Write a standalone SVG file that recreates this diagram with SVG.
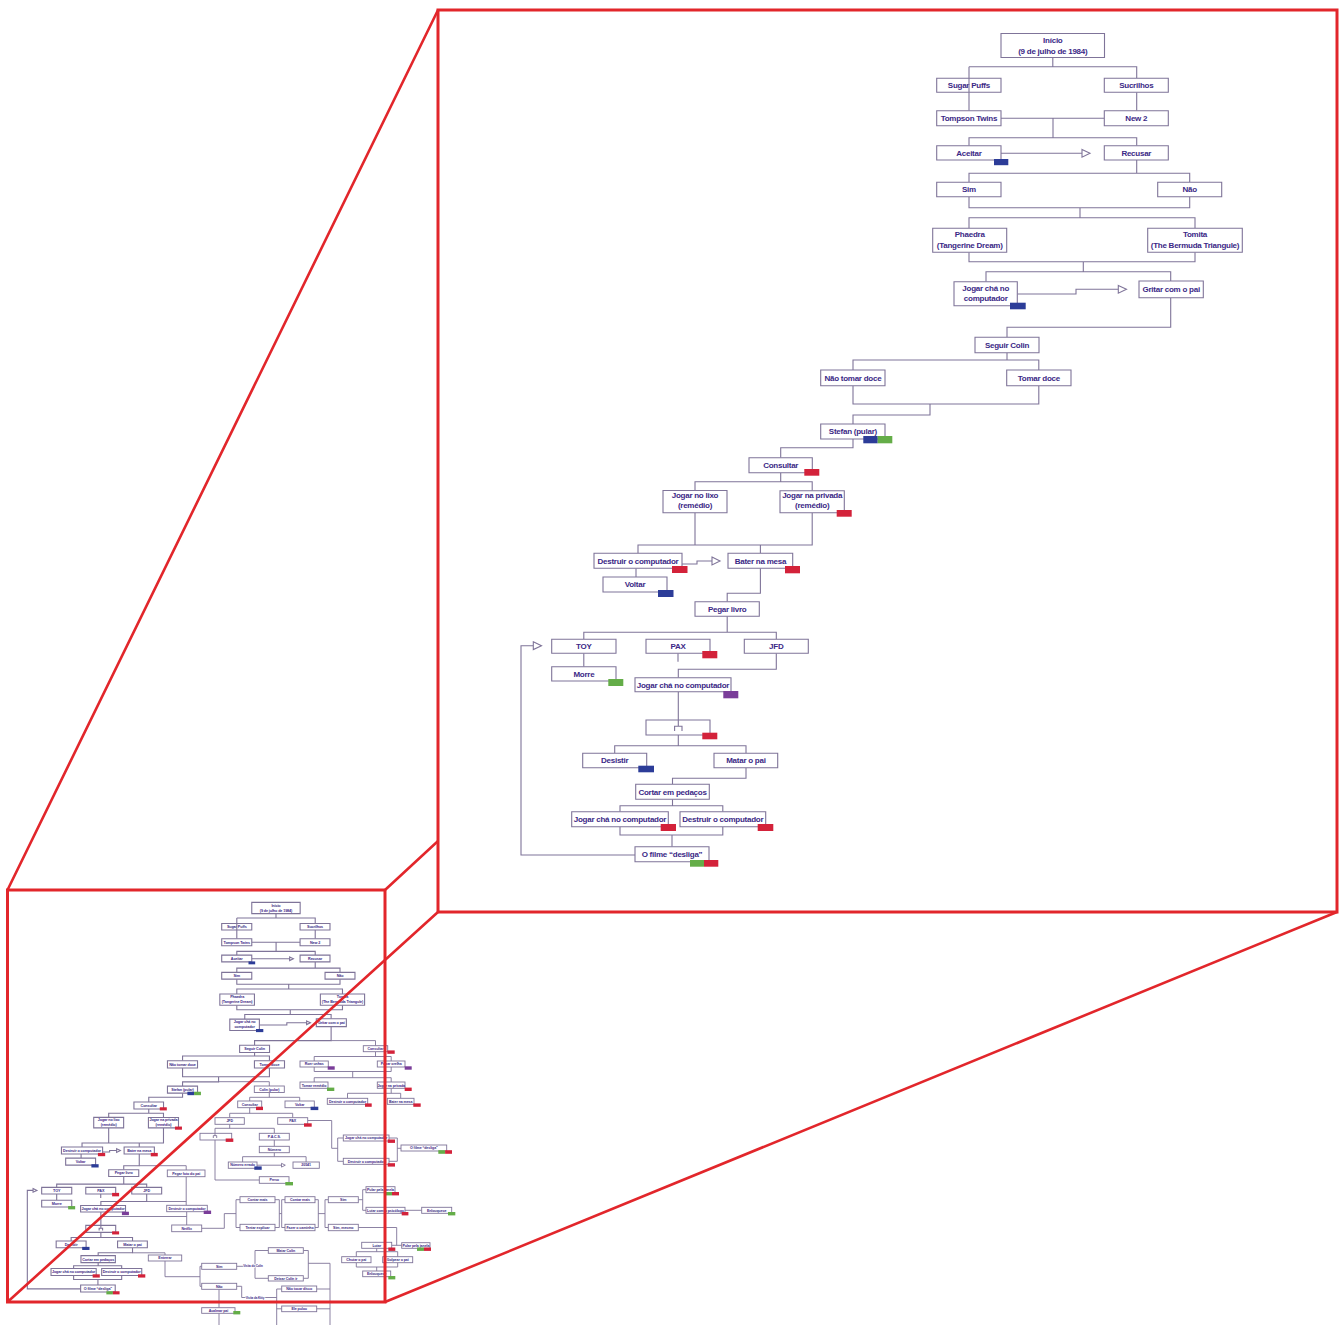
<svg xmlns="http://www.w3.org/2000/svg" xmlns:xlink="http://www.w3.org/1999/xlink" width="1343" height="1325" viewBox="0 0 1343 1325">
<style>
  .box{fill:#fff;stroke:#7f7499;stroke-width:1.1;vector-effect:non-scaling-stroke}
  .ln{fill:none;stroke:#7f7499;stroke-width:1.1;vector-effect:non-scaling-stroke}
  .tri{fill:#fff;stroke:#7f7499;stroke-width:1.1;vector-effect:non-scaling-stroke}
  .t{font-family:"Liberation Sans",Arial,sans-serif;font-weight:bold;font-size:8px;letter-spacing:-0.25px;fill:#3b2886;text-anchor:middle}
  .tb{fill:#2c3c98}.tr{fill:#d3223a}.tg{fill:#64ad48}.tp{fill:#7a3d99}
  .mb{fill:#fff;stroke:#7f7499;stroke-width:0.9}
  .ml{fill:none;stroke:#7f7499;stroke-width:0.9}
  .mt{font-family:"Liberation Sans",Arial,sans-serif;font-weight:bold;font-size:3.6px;letter-spacing:-0.08px;fill:#3b2886;text-anchor:middle}
  .lab{font-size:3px;paint-order:stroke;stroke:#fff;stroke-width:1.4px}
  .frame{fill:none;stroke:#e2262b;stroke-width:3}
  .ray{fill:none;stroke:#e2262b;stroke-width:2.6}
</style>

<rect width="1343" height="1325" fill="#fff"/>

<!-- overview: the whole flow reduced -->
<g id="overview">
  <use xlink:href="#flow" href="#flow" transform="matrix(0.4676 0 0 0.4705 -216.3 886.6)"/>

  <g id="overview-links">
    <path class="ml" d="M331.1,1040.6 H375.5 V1045.7 M375.5,1051.7 V1056.5 M314.2,1061 V1056.5 H391.2 V1061"/>
    <path class="ml" d="M314.2,1067 V1071.5 H391.2 V1067 M352.7,1071.5 V1077.7 M314.2,1082 V1077.7 H391.2 V1082"/>
    <path class="ml" d="M391.2,1088.3 V1093.3 M347.5,1098.3 V1093.3 H400.7 V1098.3"/>
    <path class="ml" d="M218.4,1081.7 H269.3 V1086 M269.3,1092.5 V1097.3 M249.7,1101 V1097.3 H299.7 V1101"/>
    <path class="ml" d="M249.7,1107.7 V1113.3 M229.7,1117.7 V1113.3 H292.7 V1117.7"/>
    <path class="ml" d="M229.7,1124.3 V1128.3 M215,1133.3 V1128.3 H274.3 V1133.3"/>
    <path class="ml" d="M215,1140 V1180 H259.3"/>
    <path class="ml" d="M274.3,1140 V1146.3 M274.3,1152.7 V1156.7 M242.6,1162 V1156.7 H306.1 V1162"/>
    <path class="ml" d="M257,1165.2 H281.5"/>
    <polygon class="mb" points="281.5,1163.3 285.3,1165.2 281.5,1167.1"/>
    <path class="ml" d="M307.7,1120.5 H331.7 V1148.3 H337.7 M337.7,1138 V1161.3 M337.7,1138 H343.3 M337.7,1161.3 H343.3"/>
    <path class="ml" d="M389,1138 H397.3 V1161.3 H389 M397.3,1148.3 H401"/>
    <path class="ml" d="M139.4,1165.7 H186.2 V1170 M186.2,1176.7 V1205.3 M146.9,1201.5 H186.2"/>
    <path class="ml" d="M100.9,1216.5 H186.7 M186.7,1211.7 V1225"/>
    <path class="ml" d="M201.7,1228.3 H224.3 V1213.6 H236 M236,1199.7 V1227.5 M236,1199.7 H240 M236,1227.5 H240"/>
    <path class="ml" d="M275,1199.7 H279.3 V1227.5 H275 M279.3,1213.6 H281.7 M281.7,1199.7 V1227.5 M281.7,1199.7 H285 M281.7,1227.5 H285"/>
    <path class="ml" d="M315,1199.7 H318.3 V1227.5 H315 M318.3,1213.6 H325 M325,1199.7 V1227.5 M325,1199.7 H328.3 M325,1227.5 H328.3"/>
    <path class="ml" d="M358.3,1199.7 H362.7 M362.7,1189.7 V1210.3 M362.7,1189.7 H366 M362.7,1210.3 H366 M405,1210.3 H421.7"/>
    <path class="ml" d="M358.3,1227.5 H396.7 V1245.3 M391.7,1245.3 H401.7"/>
    <path class="ml" d="M376.7,1248.3 V1251.7 M356.3,1256.7 V1251.7 H397.7 V1256.7 M356.3,1262.7 V1267 H397.7 V1262.7 M376.7,1267 V1271"/>
    <path class="ml" d="M132.5,1252.8 H165 V1255 M165,1261 V1276.7 H200 M200,1266.3 V1286.3 M200,1266.3 H201.7 M200,1286.3 H201.7"/>
    <path class="ml" d="M236.7,1266.3 H255 M255,1250.5 V1278.3 M255,1250.5 H268.3 M255,1278.3 H268.3"/>
    <path class="ml" d="M303.3,1250.5 H308.3 V1278.3 H303.3 M308.3,1263.3 H330 V1325"/>
    <path class="ml" d="M236.7,1286.3 H241.7 V1297.5 H276.7 M276.7,1289 V1325 M276.7,1289 H281.7 M276.7,1308.8 H281.7 M316.7,1289 H330 M316.7,1308.8 H330"/>
    <path class="ml" d="M219,1289.3 V1307.7 M219,1313.3 V1325"/>
    <text class="mt lab" x="253" y="1267.3">Visita do Colin</text>
    <text class="mt lab" x="255" y="1298.5">Visita da Kitty</text>
  </g>

  <g id="m-consultar2"><rect class="mb" x="363.3" y="1045.7" width="24.4" height="6"/><text class="mt" x="375.5" y="1050">Consultar</text><rect class="tr" x="387.3" y="1050.4" width="7.4" height="3.4"/></g>
  <g id="m-roer"><rect class="mb" x="300" y="1061" width="28.3" height="6"/><text class="mt" x="314.2" y="1065.3">Roer unhas</text><rect class="tp" x="327.7" y="1066.3" width="7" height="3.4"/></g>
  <g id="m-puxar"><rect class="mb" x="377.3" y="1061" width="27.7" height="6"/><text class="mt" x="391.2" y="1065.3">Puxar orelha</text><rect class="tp" x="404.7" y="1066.3" width="7" height="3.4"/></g>
  <g id="m-tomar-remedio"><rect class="mb" x="300" y="1082" width="28" height="6.3"/><text class="mt" x="314" y="1086.5">Tomar remédio</text><rect class="tg" x="327" y="1087.6" width="7.3" height="3.4"/></g>
  <g id="m-privada"><rect class="mb" x="377.3" y="1082" width="27.7" height="6.3"/><text class="mt" x="391.2" y="1086.5">Jogar na privada</text><rect class="tr" x="404.7" y="1087.6" width="7" height="3.4"/></g>
  <g id="m-destruir-a"><rect class="mb" x="327.3" y="1098.3" width="40.4" height="6"/><text class="mt" x="347.5" y="1102.6">Destruir o computador</text><rect class="tr" x="365" y="1103.4" width="6.7" height="3.4"/></g>
  <g id="m-bater"><rect class="mb" x="387.3" y="1098.3" width="26.7" height="6"/><text class="mt" x="400.7" y="1102.6">Bater na mesa</text><rect class="tr" x="413.3" y="1103.4" width="7.4" height="3.4"/></g>
  <g id="m-colin"><rect class="mb" x="254.3" y="1086" width="30" height="6.5"/><text class="mt" x="269.3" y="1090.5">Colin (pular)</text></g>
  <g id="m-consultar3"><rect class="mb" x="237.7" y="1101" width="24" height="6.7"/><text class="mt" x="249.7" y="1105.6">Consultar</text><rect class="tr" x="256" y="1106.7" width="7" height="3.4"/></g>
  <g id="m-voltar"><rect class="mb" x="285" y="1101" width="29.3" height="6.7"/><text class="mt" x="299.7" y="1105.6">Voltar</text><rect class="tb" x="310.6" y="1106.7" width="7.7" height="3.4"/></g>
  <g id="m-jfd"><rect class="mb" x="215" y="1117.7" width="29.3" height="6.6"/><text class="mt" x="229.7" y="1122.3">JFD</text></g>
  <g id="m-pax"><rect class="mb" x="277.7" y="1117.7" width="30" height="6.6"/><text class="mt" x="292.7" y="1122.3">PAX</text><rect class="tr" x="304" y="1123.3" width="7.7" height="3.4"/></g>
  <g id="m-hop"><rect class="mb" x="200" y="1133.3" width="31.7" height="6.7"/><path class="ml" d="M215,1133.3 V1135.6 M213.3,1138 V1135.6 H216.7 V1138"/><rect class="tr" x="225.7" y="1138.5" width="7.6" height="3.4"/></g>
  <g id="m-pacs"><rect class="mb" x="259.3" y="1133.3" width="30" height="6.7"/><text class="mt" x="274.3" y="1137.9">P.A.C.S.</text></g>
  <g id="m-numero"><rect class="mb" x="259.3" y="1146.3" width="30" height="6.4"/><text class="mt" x="274.3" y="1150.8">Número</text></g>
  <g id="m-errado"><rect class="mb" x="228.3" y="1162" width="28.7" height="6.3"/><text class="mt" x="242.6" y="1166.4">Número errado</text><rect class="tb" x="254.3" y="1166.4" width="7.4" height="3.4"/></g>
  <g id="m-codigo"><rect class="mb" x="293" y="1162" width="26.3" height="6.3"/><text class="mt" x="306.1" y="1166.4">20541</text></g>
  <g id="m-preso"><rect class="mb" x="259.3" y="1176.7" width="29.7" height="6.6"/><text class="mt" x="274.2" y="1181.3">Preso</text><rect class="tg" x="285.3" y="1182" width="7.7" height="3.4"/></g>
  <g id="m-cha"><rect class="mb" x="343.3" y="1135" width="45.7" height="6"/><text class="mt" x="366.2" y="1139.3">Jogar chá no computador</text><rect class="tr" x="387.7" y="1139.5" width="7.3" height="3.4"/></g>
  <g id="m-destruir-b"><rect class="mb" x="343.3" y="1158.3" width="45.7" height="6"/><text class="mt" x="366.2" y="1162.6">Destruir o computador</text><rect class="tr" x="387.7" y="1163.2" width="7.3" height="3.4"/></g>
  <g id="m-filme"><rect class="mb" x="401" y="1145" width="45.7" height="6"/><text class="mt" x="423.9" y="1149.3">O filme “desliga”</text><rect class="tg" x="438.3" y="1150.2" width="6.8" height="3.6"/><rect class="tr" x="445.1" y="1150.2" width="6.9" height="3.6"/></g>
  <g id="m-foto"><rect class="mb" x="167.3" y="1170" width="37.7" height="6.7"/><text class="mt" x="186.2" y="1174.6">Pegar foto do pai</text></g>
  <g id="m-destruir-c"><rect class="mb" x="166.7" y="1205.3" width="40.6" height="6.4"/><text class="mt" x="187" y="1209.8">Destruir o computador</text><rect class="tp" x="203.7" y="1210.6" width="7.4" height="3.4"/></g>
  <g id="m-netflix"><rect class="mb" x="171.7" y="1225" width="30" height="6.7"/><text class="mt" x="186.7" y="1229.6">Netflix</text></g>
  <g id="m-contar1"><rect class="mb" x="240" y="1196.7" width="35" height="6"/><text class="mt" x="257.5" y="1201">Contar mais</text></g>
  <g id="m-explicar"><rect class="mb" x="240" y="1224.3" width="35" height="6.4"/><text class="mt" x="257.5" y="1228.8">Tentar explicar</text></g>
  <g id="m-contar2"><rect class="mb" x="285" y="1196.7" width="30" height="6"/><text class="mt" x="300" y="1201">Contar mais</text></g>
  <g id="m-caminho"><rect class="mb" x="285" y="1224.3" width="30" height="6.4"/><text class="mt" x="300" y="1228.8">Fazer o caminho</text></g>
  <g id="m-sim1"><rect class="mb" x="328.3" y="1196.7" width="30" height="6"/><text class="mt" x="343.3" y="1201">Sim</text></g>
  <g id="m-sim2"><rect class="mb" x="328.3" y="1224.3" width="30" height="6.4"/><text class="mt" x="343.3" y="1228.8">Sim, mesmo</text></g>
  <g id="m-janela1"><rect class="mb" x="366" y="1186.7" width="29" height="6"/><text class="mt" x="380.5" y="1191">Pular pela janela</text><rect class="tg" x="385" y="1192" width="7" height="3.4"/><rect class="tr" x="392" y="1192" width="7" height="3.4"/></g>
  <g id="m-lutar1"><rect class="mb" x="366" y="1207.3" width="39" height="6"/><text class="mt" x="385.5" y="1211.6">Lutar com o psicólogo</text><rect class="tr" x="401.7" y="1212" width="6.7" height="3.4"/></g>
  <g id="m-enlouquece1"><rect class="mb" x="421.7" y="1207.3" width="30" height="6"/><text class="mt" x="436.7" y="1211.6">Enlouquece</text><rect class="tg" x="448" y="1212" width="7.3" height="3.4"/></g>
  <g id="m-lutar2"><rect class="mb" x="361.7" y="1242.3" width="30" height="6"/><text class="mt" x="376.7" y="1246.6">Lutar</text><rect class="tr" x="388.3" y="1247.5" width="7" height="3.4"/></g>
  <g id="m-janela2"><rect class="mb" x="401.7" y="1242.7" width="28.3" height="5.6"/><text class="mt" x="415.9" y="1246.8">Pular pela janela</text><rect class="tg" x="417" y="1247.5" width="7" height="3.4"/><rect class="tr" x="424" y="1247.5" width="7" height="3.4"/></g>
  <g id="m-chutar"><rect class="mb" x="341.7" y="1256.7" width="29.3" height="6"/><text class="mt" x="356.3" y="1261">Chutar o pai</text></g>
  <g id="m-golpear"><rect class="mb" x="382.7" y="1256.7" width="30" height="6"/><text class="mt" x="397.7" y="1261">Golpear o pai</text></g>
  <g id="m-enlouquece2"><rect class="mb" x="362.7" y="1271" width="28" height="5.7"/><text class="mt" x="376.7" y="1275.2">Enlouquece</text><rect class="tg" x="388.3" y="1276" width="7" height="3.4"/></g>
  <g id="m-enterrar"><rect class="mb" x="148.3" y="1255" width="33.4" height="6"/><text class="mt" x="165" y="1259.3">Enterrar</text></g>
  <g id="m-sim3"><rect class="mb" x="201.7" y="1263.3" width="35" height="6"/><text class="mt" x="219.2" y="1267.6">Sim</text></g>
  <g id="m-nao3"><rect class="mb" x="201.7" y="1283.3" width="35" height="6"/><text class="mt" x="219.2" y="1287.6">Não</text></g>
  <g id="m-matar-colin"><rect class="mb" x="268.3" y="1247.7" width="35" height="5.6"/><text class="mt" x="285.8" y="1251.8">Matar Colin</text></g>
  <g id="m-deixar"><rect class="mb" x="268.3" y="1275.7" width="35" height="5.3"/><text class="mt" x="285.8" y="1279.6">Deixar Colin ir</text></g>
  <g id="m-disco"><rect class="mb" x="281.7" y="1286" width="35" height="5.7"/><text class="mt" x="299.2" y="1290.1">Não tocar disco</text></g>
  <g id="m-pulou"><rect class="mb" x="281.7" y="1306" width="35" height="5.7"/><text class="mt" x="299.2" y="1310.1">Ele pulou</text></g>
  <g id="m-acalmar"><rect class="mb" x="201.7" y="1307.7" width="33.3" height="5.6"/><text class="mt" x="218.4" y="1311.8">Acalmar pai</text><rect class="tg" x="233.3" y="1311" width="7" height="3.4"/></g>
</g>

<!-- red magnifier: small frame, rays, large frame -->
<rect id="overview-frame" class="frame" x="7.5" y="890" width="377.5" height="412"/>
<g id="rays">
  <path class="ray" d="M7.5,890 L438,10 M385,890 L1337,10 M7.5,1302 L438,912 M385,1302 L1337,912"/>
</g>
<rect id="detail-frame" x="438" y="10" width="899" height="902" fill="#fff" stroke="#e2262b" stroke-width="3"/>

<!-- enlarged flow -->
<g id="flow">
  <g id="connectors">
    <path class="ln" d="M1052.8,57.5 V66.7 M969,66.7 H1136.7 V78.3 M969,66.7 V110.7 M1136.7,92.3 V110.7"/>
    <path class="ln" d="M1001,118.3 H1104.3 M1053,118.3 V137.7 M969,145.7 V137.7 H1136.7 V145.7"/>
    <path class="ln" d="M1001,153.3 H1082"/>
    <polygon class="tri" points="1082,149.4 1090,153.3 1082,157.2"/>
    <path class="ln" d="M1136.7,160 V173.3 M969,182.3 V173.3 H1189.7 V182.3"/>
    <path class="ln" d="M969,196.7 V207.7 H1189.7 V196.7 M1080,207.7 V217.7 M969,228.3 V217.7 H1195 V228.3"/>
    <path class="ln" d="M969,252.3 V261.7 H1195 V252.3 M1083.3,261.7 V271.7 M986,281.7 V271.7 H1170.7 V281"/>
    <path class="ln" d="M1017.3,294 H1076 V289.3 H1118.3"/>
    <polygon class="tri" points="1118.3,285.4 1126.5,289.3 1118.3,293.2"/>
    <path class="ln" d="M1170.7,297.7 V327.3 H1007 V337.3"/>
    <path class="ln" d="M1007,352.7 V360 M853,370 V360 H1038.8 V370"/>
    <path class="ln" d="M853,385.7 V404 H1038.8 V385.7 M930,404 V415 H853 V424"/>
    <path class="ln" d="M853,439 V447.7 H780.7 V457.7"/>
    <path class="ln" d="M780.7,472.7 V481.7 M695,490.5 V481.7 H812.2 V490.7"/>
    <path class="ln" d="M695,512.7 V545 M638,553.3 V545 H812.2 V512.7 M760.4,545 V553.3"/>
    <path class="ln" d="M682,564 H697 V561 H712"/>
    <polygon class="tri" points="712,557.1 720,561 712,564.9"/>
    <path class="ln" d="M636,568.3 V577"/>
    <path class="ln" d="M760.4,568.3 V593.3 H727.2 V601.7"/>
    <path class="ln" d="M727.2,616.2 V632.3 M583.8,639.3 V632.3 H776.3 V639.3"/>
    <path class="ln" d="M583.8,653.3 V666.7 M678,653.3 V661.7"/>
    <path class="ln" d="M776.3,653.3 V669.3 H678.3 V677.7"/>
    <path class="ln" d="M678.3,691.7 V720"/>
    <path class="ln" d="M678.3,735 V745.7 M614.7,753.3 V745.7 H746 V753.3"/>
    <path class="ln" d="M746,767.7 V778.3 H672.5 V784.3"/>
    <path class="ln" d="M672.5,799.3 V805.7 M620,811.7 V805.7 H722.8 V811.7"/>
    <path class="ln" d="M620,826.7 V835 H722.8 V826.7 M672,835 V846.7"/>
    <path class="ln" d="M635,855 H521 V645.7 H533.3"/>
    <polygon class="tri" points="533.3,641.8 541.5,645.7 533.3,649.6"/>
  </g>

  <g id="n-inicio"><rect class="box" x="1001" y="33.5" width="103.5" height="24"/><text class="t" x="1052.8" y="43.2">Início</text><text class="t" x="1052.8" y="54">(9 de julho de 1984)</text></g>
  <g id="n-sugar-puffs"><rect class="box" x="936.7" y="78.3" width="64.3" height="14"/><text class="t" x="968.9" y="88.2">Sugar Puffs</text><path class="ln" d="M969,78.3 V92.3"/></g>
  <g id="n-sucrilhos"><rect class="box" x="1104.3" y="78.3" width="64" height="14"/><text class="t" x="1136.3" y="88.2">Sucrilhos</text></g>
  <g id="n-tompson"><rect class="box" x="936.7" y="110.7" width="64.3" height="15"/><text class="t" x="968.9" y="121.1">Tompson Twins</text></g>
  <g id="n-new2"><rect class="box" x="1104.3" y="110.7" width="64" height="15"/><text class="t" x="1136.3" y="121.1">New 2</text></g>
  <g id="n-aceitar"><rect class="box" x="936.7" y="145.7" width="64.3" height="14.3"/><text class="t" x="968.9" y="155.8">Aceitar</text><rect class="tb" x="994" y="159" width="14.3" height="6.2"/></g>
  <g id="n-recusar"><rect class="box" x="1104.3" y="145.7" width="64" height="14.3"/><text class="t" x="1136.3" y="155.8">Recusar</text></g>
  <g id="n-sim"><rect class="box" x="936.7" y="182.3" width="64.3" height="14.4"/><text class="t" x="968.9" y="192.4">Sim</text></g>
  <g id="n-nao"><rect class="box" x="1157.7" y="182.3" width="64" height="14.4"/><text class="t" x="1189.7" y="192.4">Não</text></g>
  <g id="n-phaedra"><rect class="box" x="932.7" y="228.3" width="74" height="24"/><text class="t" x="969.7" y="236.8">Phaedra</text><text class="t" x="969.7" y="248.2">(Tangerine Dream)</text></g>
  <g id="n-tomita"><rect class="box" x="1147.7" y="228.3" width="94.6" height="24"/><text class="t" x="1195" y="236.8">Tomita</text><text class="t" x="1195" y="248.2">(The Bermuda Triangule)</text></g>
  <g id="n-jogar-cha-1"><rect class="box" x="954" y="281.7" width="63.3" height="24"/><text class="t" x="985.7" y="290.6">Jogar chá no</text><text class="t" x="985.7" y="301.4">computador</text><rect class="tb" x="1010" y="302.7" width="15.7" height="6.6"/></g>
  <g id="n-gritar"><rect class="box" x="1139" y="281" width="64.3" height="16.7"/><text class="t" x="1171.2" y="292.4">Gritar com o pai</text></g>
  <g id="n-seguir-colin"><rect class="box" x="975" y="337.3" width="64" height="15.4"/><text class="t" x="1007" y="347.9">Seguir Colin</text></g>
  <g id="n-nao-tomar"><rect class="box" x="820.7" y="370" width="64.3" height="15.7"/><text class="t" x="852.9" y="380.7">Não tomar doce</text></g>
  <g id="n-tomar"><rect class="box" x="1006.7" y="370" width="64.3" height="15.7"/><text class="t" x="1038.9" y="380.7">Tomar doce</text></g>
  <g id="n-stefan"><rect class="box" x="820.7" y="424" width="64.3" height="15"/><text class="t" x="852.9" y="434.4">Stefan (pular)</text><rect class="tb" x="863.3" y="436" width="14.4" height="7.3"/><rect class="tg" x="877.7" y="436" width="14.6" height="7.3"/></g>
  <g id="n-consultar"><rect class="box" x="749" y="457.7" width="63.3" height="15"/><text class="t" x="780.7" y="468.1">Consultar</text><rect class="tr" x="804.3" y="469" width="15" height="6.7"/></g>
  <g id="n-lixo"><rect class="box" x="663" y="490.5" width="64" height="22.2"/><text class="t" x="695" y="497.5">Jogar no lixo</text><text class="t" x="695" y="508.2">(remédio)</text></g>
  <g id="n-privada"><rect class="box" x="780" y="490.7" width="64.3" height="22"/><text class="t" x="812.2" y="497.5">Jogar na privada</text><text class="t" x="812.2" y="508.2">(remédio)</text><rect class="tr" x="836.7" y="510" width="15" height="6.7"/></g>
  <g id="n-destruir-1"><rect class="box" x="594" y="553.3" width="88" height="15"/><text class="t" x="638" y="563.7">Destruir o computador</text><rect class="tr" x="672" y="566" width="15.5" height="7"/></g>
  <g id="n-bater"><rect class="box" x="728" y="553.3" width="64.7" height="15"/><text class="t" x="760.4" y="563.7">Bater na mesa</text><rect class="tr" x="785" y="566" width="15" height="7.3"/></g>
  <g id="n-voltar"><rect class="box" x="603" y="577" width="64" height="15"/><text class="t" x="635" y="587.4">Voltar</text><rect class="tb" x="658" y="590" width="15.5" height="7"/></g>
  <g id="n-pegar-livro"><rect class="box" x="695" y="601.7" width="64.3" height="14.5"/><text class="t" x="727.2" y="611.9">Pegar livro</text></g>
  <g id="n-toy"><rect class="box" x="551.7" y="639.3" width="64.3" height="14"/><text class="t" x="583.9" y="649.2">TOY</text></g>
  <g id="n-pax"><rect class="box" x="646" y="639.3" width="64" height="14"/><text class="t" x="678" y="649.2">PAX</text><rect class="tr" x="702.3" y="651" width="15" height="7.3"/></g>
  <g id="n-jfd"><rect class="box" x="744.3" y="639.3" width="64" height="14"/><text class="t" x="776.3" y="649.2">JFD</text></g>
  <g id="n-morre"><rect class="box" x="551.7" y="666.7" width="64.3" height="14.3"/><text class="t" x="583.9" y="676.8">Morre</text><rect class="tg" x="608.3" y="679" width="15" height="7"/></g>
  <g id="n-jogar-cha-2"><rect class="box" x="635" y="677.7" width="96" height="14"/><text class="t" x="683" y="687.6">Jogar chá no computador</text><rect class="tp" x="723.3" y="691" width="15" height="7.3"/></g>
  <g id="n-escolha"><rect class="box" x="646" y="720" width="64" height="15"/><path class="ln" d="M678.3,720 V726.3 M674.6,731 V726.3 H682 V731"/><rect class="tr" x="702.3" y="732.7" width="15" height="6.6"/></g>
  <g id="n-desistir"><rect class="box" x="582.7" y="753.3" width="64" height="14.4"/><text class="t" x="614.7" y="763.4">Desistir</text><rect class="tb" x="638.3" y="765.7" width="15.7" height="6.6"/></g>
  <g id="n-matar"><rect class="box" x="714" y="753.3" width="63.7" height="14.4"/><text class="t" x="745.9" y="763.4">Matar o pai</text></g>
  <g id="n-cortar"><rect class="box" x="635.7" y="784.3" width="73.6" height="15"/><text class="t" x="672.5" y="794.7">Cortar em pedaços</text></g>
  <g id="n-jogar-cha-3"><rect class="box" x="571.7" y="811.7" width="96.6" height="15"/><text class="t" x="620" y="822.1">Jogar chá no computador</text><rect class="tr" x="660.7" y="824" width="15.3" height="7"/></g>
  <g id="n-destruir-2"><rect class="box" x="680" y="811.7" width="85.7" height="15"/><text class="t" x="722.8" y="822.1">Destruir o computador</text><rect class="tr" x="757.7" y="824" width="15.6" height="7"/></g>
  <g id="n-filme"><rect class="box" x="635" y="846.7" width="74" height="15"/><text class="t" x="672" y="857.1">O filme “desliga”</text><rect class="tg" x="690" y="860" width="14" height="6.7"/><rect class="tr" x="704" y="860" width="14.3" height="6.7"/></g>
</g>
</svg>
